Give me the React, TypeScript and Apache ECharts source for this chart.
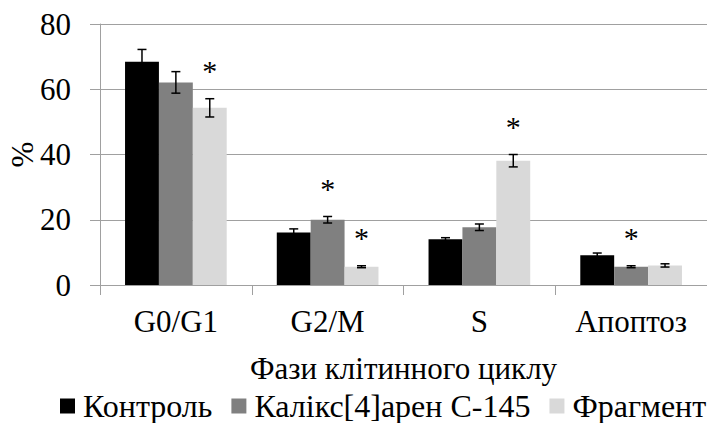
import React, { useEffect, useRef } from "react";
import * as echarts from "echarts";

// Cell-cycle phase distribution, mean ± error, with significance markers
const categories = ["G0/G1", "G2/M", "S", "Апоптоз"];
const seriesNames = ["Контроль", "Калікс[4]арен С-145", "Фрагмент"];
const seriesColors = ["#000000", "#808080", "#d9d9d9"];

const controlValues = [68.4, 16.1, 14.0, 9.1];
const controlErrors = [3.8, 1.1, 0.5, 0.7];
const calixValues = [62.1, 20.0, 17.7, 5.6];
const calixErrors = [3.3, 1.0, 1.0, 0.3];
const fragmentValues = [54.3, 5.6, 38.1, 6.0];
const fragmentErrors = [2.8, 0.3, 1.9, 0.5];

// 1 = significant difference from control (marked with "*")
const controlStars = [0, 0, 0, 0];
const calixStars = [0, 1, 0, 1];
const fragmentStars = [1, 1, 1, 0];

const yTicks = [0, 20, 40, 60, 80];

const FONT = "Liberation Serif";
const FONT_SIZE = 31;
const CATEGORY_GAP = 0.33;

export default function App() {
  const ref = useRef<HTMLDivElement>(null);

  useEffect(() => {
    if (!ref.current) return;
    const chart = echarts.init(ref.current, null, { renderer: "svg" });

    const values = [controlValues, calixValues, fragmentValues];
    const errors = [controlErrors, calixErrors, fragmentErrors];
    const stars = [controlStars, calixStars, fragmentStars];

    // [category index, low, high, series index, star flag]
    const errorData: number[][] = [];
    values.forEach((vals, s) => {
      vals.forEach((v, c) => {
        errorData.push([c, v - errors[s][c], v + errors[s][c], s, stars[s][c]]);
      });
    });

    const barSeries = seriesNames.map((name, s) => ({
      name,
      type: "bar" as const,
      data: values[s],
      barGap: "0%",
      barCategoryGap: `${CATEGORY_GAP * 100}%`,
      itemStyle: { color: seriesColors[s] },
      z: 2,
    }));

    const text = { fontFamily: FONT, fontSize: FONT_SIZE, color: "#000" };

    chart.setOption({
      animation: false,
      grid: {
        left: 100,
        right: 0,
        top: 24,
        bottom: 138,
        containLabel: false,
        outerBoundsMode: "none",
      },
      legend: {
        data: seriesNames.map((n) => ({ name: n, icon: "rect" })),
        left: 60,
        top: 390,
        itemWidth: 15,
        itemHeight: 15,
        itemGap: 19,
        padding: 0,
        textStyle: { ...text, fontSize: 32, lineHeight: 32, padding: [0, 0, 0, 3] },
      },
      xAxis: {
        type: "category",
        data: categories,
        name: "Фази клітинного циклу",
        nameLocation: "middle",
        nameGap: 68,
        nameMoveOverlap: false,
        nameTextStyle: text,
        axisLine: { lineStyle: { color: "#a0a0a0", width: 1 } },
        axisTick: { show: true, length: 10, lineStyle: { color: "#a0a0a0" } },
        axisLabel: { ...text, margin: 21 },
      },
      yAxis: {
        type: "value",
        min: yTicks[0],
        max: yTicks[yTicks.length - 1],
        interval: 20,
        name: "%",
        nameLocation: "middle",
        nameGap: 62,
        nameRotate: 90,
        nameMoveOverlap: false,
        nameTextStyle: text,
        axisLine: { show: true, lineStyle: { color: "#a0a0a0", width: 1 } },
        axisTick: { show: true, length: 10, lineStyle: { color: "#a0a0a0" } },
        splitLine: { show: true, lineStyle: { color: "#a0a0a0", width: 1 } },
        axisLabel: { ...text, margin: 29 },
      },
      series: [
        ...barSeries,
        {
          type: "custom",
          name: "errors",
          data: errorData,
          encode: { x: 0, y: [1, 2] },
          z: 5,
          silent: true,
          renderItem: (params: any, api: any) => {
            const cat = api.value(0);
            const lo = api.value(1);
            const hi = api.value(2);
            const s = api.value(3);
            const star = api.value(4);
            const band = api.size([1, 0])[0];
            const bw = (band * (1 - CATEGORY_GAP)) / 3;
            const top = api.coord([cat, hi]);
            const bottom = api.coord([cat, lo]);
            const x = top[0] + (s - 1) * bw;
            const cap = 4.5;
            const lineStyle = { stroke: "#000", lineWidth: 1.5 };
            const children: any[] = [
              { type: "line", shape: { x1: x, y1: top[1], x2: x, y2: bottom[1] }, style: lineStyle },
              { type: "line", shape: { x1: x - cap, y1: top[1], x2: x + cap, y2: top[1] }, style: lineStyle },
              { type: "line", shape: { x1: x - cap, y1: bottom[1], x2: x + cap, y2: bottom[1] }, style: lineStyle },
            ];
            if (star) {
              children.push({
                type: "text",
                x,
                y: top[1] - 28,
                style: {
                  text: "*",
                  fontFamily: FONT,
                  fontSize: 30,
                  fill: "#000",
                  align: "center",
                  verticalAlign: "middle",
                },
              });
            }
            return { type: "group", children };
          },
        },
      ],
    });

    return () => chart.dispose();
  }, []);

  return (
    <div
      ref={ref}
      style={{ position: "fixed", left: 0, top: 0, width: 707, height: 423, background: "#fff" }}
    />
  );
}
